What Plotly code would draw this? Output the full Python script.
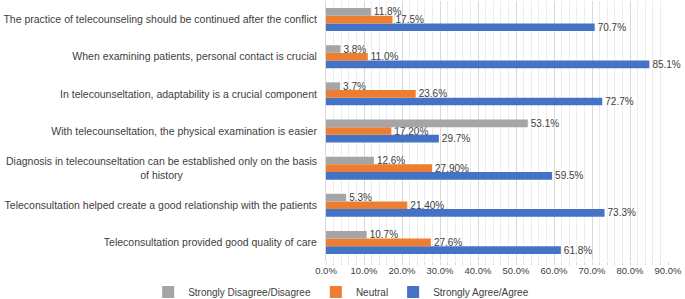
import plotly.graph_objects as go

categories = [
    "The practice of telecounseling should be continued after the conflict",
    "When examining patients, personal contact is crucial",
    "In telecounseltation, adaptability is a crucial component",
    "With telecounseltation, the physical examination is easier",
    "Diagnosis in telecounseltation can be established only on the basis<br>of history",
    "Teleconsultation helped create a good relationship with the patients",
    "Teleconsultation provided good quality of care",
]
disagree = [11.8, 3.8, 3.7, 53.1, 12.6, 5.3, 10.7]
neutral = [17.5, 11.0, 23.6, 17.2, 27.9, 21.4, 27.6]
agree = [70.7, 85.1, 72.7, 29.7, 59.5, 73.3, 61.8]
disagree_text = ["11.8%", "3.8%", "3.7%", "53.1%", "12.6%", "5.3%", "10.7%"]
neutral_text = ["17.5%", "11.0%", "23.6%", "17.20%", "27.90%", "21.40%", "27.6%"]
agree_text = ["70.7%", "85.1%", "72.7%", "29.7%", "59.5%", "73.3%", "61.8%"]
x_tickvals = [0, 10, 20, 30, 40, 50, 60, 70, 80, 90]
x_ticktext = ["0.0%", "10.0%", "20.0%", "30.0%", "40.0%", "50.0%",
              "60.0%", "70.0%", "80.0%", "90.0%"]

FONT = "Liberation Sans, Arial, sans-serif"
TXT = "#404040"

fig = go.Figure()
series = [
    ("Strongly Agree/Agree", agree, agree_text, "#4472C4", 3),
    ("Neutral", neutral, neutral_text, "#ED7D31", 2),
    ("Strongly Disagree/Disagree", disagree, disagree_text, "#A5A5A5", 1),
]
for name, vals, txt, color, rank in series:
    fig.add_trace(go.Bar(
        y=categories, x=vals, orientation="h", name=name,
        marker=dict(color=color, line=dict(width=0)),
        text=txt, textposition="outside", constraintext="none",
        textfont=dict(family=FONT, size=10, color=TXT),
        cliponaxis=False, legendrank=rank,
    ))

multi = [c for c in categories if "<br>" in c]
ticktext = ["" if "<br>" in c else c for c in categories]

fig.update_layout(
    width=685, height=299,
    margin=dict(l=326, r=17, t=1, b=38, autoexpand=False),
    paper_bgcolor="white", plot_bgcolor="white",
    barmode="group", bargap=0.38, bargroupgap=0,
    font=dict(family=FONT, size=10, color=TXT),
    showlegend=True,
    legend=dict(
        orientation="h", xref="paper", yref="paper",
        x=-0.52, y=-0.119, xanchor="left", yanchor="middle",
        bgcolor="rgba(0,0,0,0)",
        font=dict(family=FONT, size=10, color=TXT),
        itemwidth=30, traceorder="normal",
    ),
    xaxis=dict(
        range=[0, 90], tickvals=x_tickvals, ticktext=x_ticktext,
        showgrid=True, gridcolor="#D9D9D9", gridwidth=1,
        minor=dict(dtick=2, showgrid=True, gridcolor="#EDEDED", gridwidth=1,
                   ticks="outside", ticklen=3, tickcolor="#D9D9D9"),
        ticks="outside", ticklen=1, tickcolor="#D9D9D9",
        zeroline=False, showline=False, automargin=False,
        tickfont=dict(family=FONT, size=9.5, color=TXT),
    ),
    yaxis=dict(
        categoryorder="array", categoryarray=categories[::-1],
        tickvals=categories, ticktext=ticktext,
        showline=True, linecolor="#D9D9D9", linewidth=1,
        showgrid=False, ticks="", ticklabelstandoff=6, automargin=False,
        tickfont=dict(family=FONT, size=10.5, color=TXT),
    ),
)
for c in multi:
    fig.add_annotation(
        text=c, xref="paper", yref="y", x=0, y=c, xanchor="right",
        yanchor="middle", xshift=-7, align="center", showarrow=False,
        font=dict(family=FONT, size=10.5, color=TXT),
    )

fig.write_html("out.html", config={"displayModeBar": False},
               post_script="document.body.style.margin='0';document.body.style.overflow='hidden';")
